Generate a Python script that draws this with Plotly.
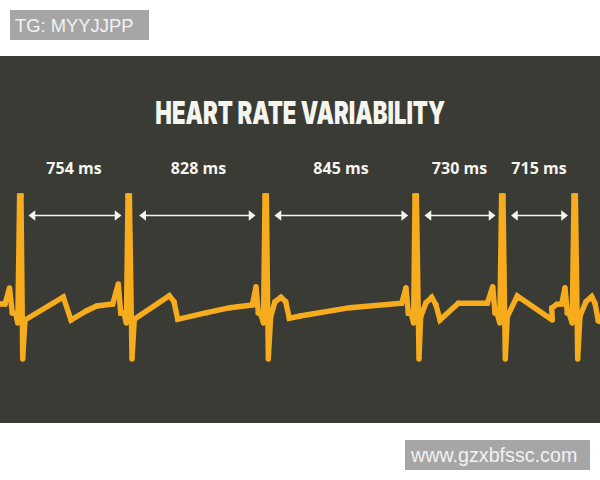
import plotly.graph_objects as go

# ECG trace (x and y in image pixels)
ecg_x = [0, 5, 9.5, 12.3, 15.7, 17.8, 19.6, 21, 22.7, 25, 63.3, 71, 86.7, 96.7, 112.7, 118.3, 120.7, 124, 126.4,
         128, 129.4, 132, 134.3, 169.3, 174, 177.7, 206.7, 230, 252.3, 256, 258.3, 260.7, 263.5,
         265, 266.4, 268.3, 270.7, 275, 281, 285.7, 289.3, 300, 350, 401.7, 406, 408.3, 411, 413.6,
         415, 416.4, 419, 420.7, 426, 431.7, 436, 440, 458.3, 487.3, 492.7, 495, 497.3, 499.8,
         501.6, 503, 505.3, 507.3, 517.3, 552.3, 551.7, 556.7, 561.7, 565, 567.3, 569.3, 572.2,
         574, 575.4, 577.7, 580, 586, 591.7, 595, 598.3, 600]
ecg_y = [304, 304, 288, 313, 314, 323, 196, 196, 359, 320, 297, 320, 310.7, 306, 304, 284, 313, 313, 323,
         196, 196, 359, 319.3, 295.7, 301.7, 319.3, 312.7, 307.7, 305, 286.7, 313, 314, 323,
         196, 196, 359, 316.7, 301.7, 297.3, 301.7, 318.3, 316, 307.7, 303.3, 287.7, 313, 313, 323,
         196, 196, 359, 316.7, 302.7, 297.3, 305, 320, 303.3, 303.3, 286.7, 313, 314, 323,
         196, 196, 359, 316.7, 296, 320, 308, 304.3, 304, 287.7, 313, 314, 323,
         196, 196, 359, 316, 301.7, 296.7, 303.3, 320.7, 321.5]

# beat intervals
interval_labels = ["754", "828", "845", "730", "715"]
label_x = [74, 198.5, 341, 459.5, 539]
label_y = [170, 170, 170, 170, 170]
arrow_left = [30, 140.7, 276, 426, 512.5]
arrow_right = [120, 254, 406.7, 494, 566.5]
arrow_y = 215.5

title_text = "HEART RATE VARIABILITY"
tag_text = "TG: MYYJJPP"
site_text = "www.gzxbfssc.com"

PANEL = "#3b3b35"
TRACE = "#f6ac1c"
BOX = "#a6a6a6"

fig = go.Figure()

# double headed arrows
for left, right in zip(arrow_left, arrow_right):
    fig.add_trace(go.Scatter(
        x=[left + 3, right - 3], y=[arrow_y, arrow_y], mode="lines+markers",
        line=dict(color="#f4f4f0", width=1.3),
        marker=dict(symbol=["triangle-left", "triangle-right"], size=9, color="#f4f4f0"),
        hoverinfo="skip"))

# markers give the trace its round joins
fig.add_trace(go.Scatter(
    x=ecg_x, y=ecg_y, mode="lines+markers",
    line=dict(color=TRACE, width=5.4),
    marker=dict(color=TRACE, size=5.4, line_width=0),
    hoverinfo="skip"))

# interval labels
fig.add_trace(go.Scatter(
    x=label_x, y=label_y, mode="text",
    text=[f"<b>{v}</b> <b>ms</b>" for v in interval_labels],
    textposition="middle center",
    textfont=dict(family="Open Sans", size=16, color="#f4f4ee"),
    hoverinfo="skip"))

fig.add_annotation(x=300, y=112, text=title_text, showarrow=False,
                   font=dict(family="Inter", size=31, weight=900, color="#f5f5ef"))
fig.add_annotation(x=13, y=25, text=tag_text, showarrow=False, xanchor="left",
                   font=dict(family="Liberation Sans", size=18.4, color="#f2f2f2"))
fig.add_annotation(x=408, y=454.5, text=site_text, showarrow=False, xanchor="left",
                   font=dict(family="Liberation Sans", size=19.7, color="#f2f2f2"))

fig.update_layout(
    width=600, height=480,
    margin=dict(l=0, r=0, t=0, b=0),
    paper_bgcolor="white", plot_bgcolor="white",
    showlegend=False,
    xaxis=dict(range=[0, 600], visible=False, fixedrange=True),
    yaxis=dict(range=[480, 0], visible=False, fixedrange=True),
    shapes=[
        dict(type="rect", x0=0, x1=600, y0=56, y1=423, fillcolor=PANEL, line_width=0, layer="below"),
        dict(type="rect", x0=10, x1=149, y0=10, y1=40, fillcolor=BOX, line_width=0, layer="below"),
        dict(type="rect", x0=405, x1=590, y0=440, y1=470, fillcolor=BOX, line_width=0, layer="below"),
    ],
)

# no condensed heavy font installed, so squeeze the title to the reference width
squeeze = """
document.body.style.margin='0';
var t = document.querySelector('.annotation-text');
var b = t.getBBox();
var s = 290 / b.width;
var cx = b.x + b.width / 2;
t.setAttribute('transform', 'translate(' + (cx * (1 - s)) + ',0) scale(' + s + ',1)');
"""
fig.write_html("out.html", config={"displayModeBar": False}, post_script=squeeze)
